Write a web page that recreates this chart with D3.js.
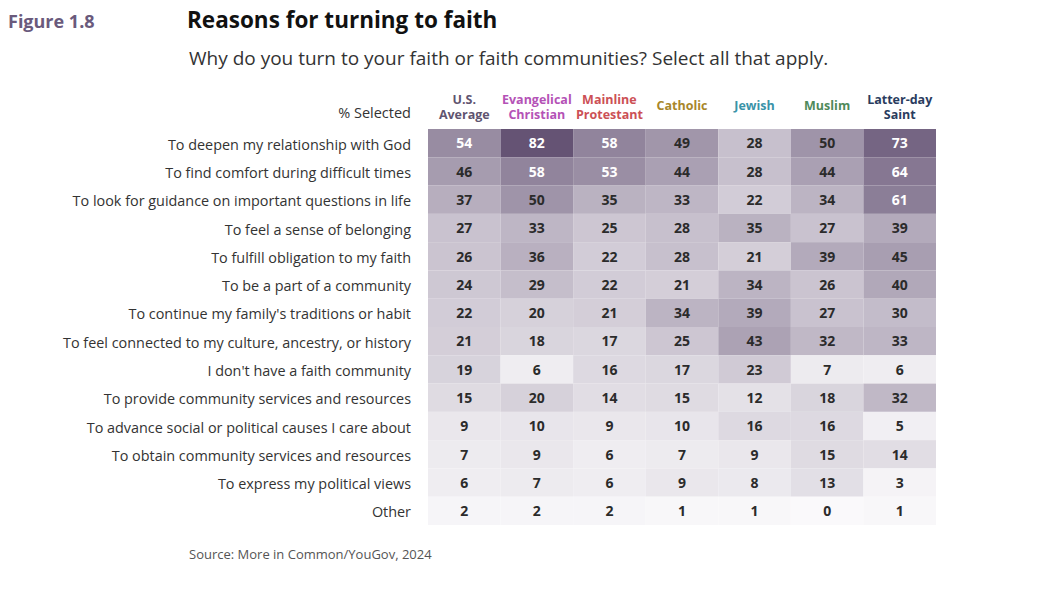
<!DOCTYPE html>
<html lang="en">
<head>
<meta charset="UTF-8" />
<title>Reasons for turning to faith</title>
<script src="https://cdn.jsdelivr.net/npm/d3@7"></script>
<style>
  body { margin: 0; background: #fff; }
  text { font-family: "Open Sans", Lato, sans-serif; }
</style>
</head>
<body>
<svg id="vis" width="1056" height="597"></svg>
<script>
  // groups (columns)
  const groups = ["U.S. Average", "Evangelical Christian", "Mainline Protestant",
    "Catholic", "Jewish", "Muslim", "Latter-day Saint"];
  const groupLines = [["U.S.", "Average"], ["Evangelical", "Christian"], ["Mainline", "Protestant"],
    ["Catholic"], ["Jewish"], ["Muslim"], ["Latter-day", "Saint"]];
  const groupColors = ["#5f5470", "#b452b6", "#cc5055", "#a8872a", "#3a93a8", "#4f8a5a", "#2a3c5e"];

  // reasons (rows)
  const reasons = [
    "To deepen my relationship with God",
    "To find comfort during difficult times",
    "To look for guidance on important questions in life",
    "To feel a sense of belonging",
    "To fulfill obligation to my faith",
    "To be a part of a community",
    "To continue my family's traditions or habit",
    "To feel connected to my culture, ancestry, or history",
    "I don't have a faith community",
    "To provide community services and resources",
    "To advance social or political causes I care about",
    "To obtain community services and resources",
    "To express my political views",
    "Other"
  ];

  // % selected, one array per column
  const usAverage   = [54, 46, 37, 27, 26, 24, 22, 21, 19, 15, 9, 7, 6, 2];
  const evangelical = [82, 58, 50, 33, 36, 29, 20, 18, 6, 20, 10, 9, 7, 2];
  const mainline    = [58, 53, 35, 25, 22, 22, 21, 17, 16, 14, 9, 6, 6, 2];
  const catholic    = [49, 44, 33, 28, 28, 21, 34, 25, 17, 15, 10, 7, 9, 1];
  const jewish      = [28, 28, 22, 35, 21, 34, 39, 43, 23, 12, 16, 9, 8, 1];
  const muslim      = [50, 44, 34, 27, 39, 26, 27, 32, 7, 18, 16, 15, 13, 0];
  const latterDay   = [73, 64, 61, 39, 45, 40, 30, 33, 6, 32, 5, 14, 3, 1];
  const columns = [usAverage, evangelical, mainline, catholic, jewish, muslim, latterDay];

  const cells = [];
  columns.forEach((col, ci) => col.forEach((v, ri) => {
    cells.push({ group: groups[ci], reason: reasons[ri], value: v });
  }));

  const svg = d3.select("#vis");

  const x = d3.scaleBand().domain(groups).range([428, 936]);
  const y = d3.scaleBand().domain(reasons).range([129, 525]);
  const color = d3.scaleLinear().domain([0, 82]).range(["#faf9fb", "#655374"]);

  // titles
  svg.append("text").attr("x", 8).attr("y", 28)
    .attr("font-size", 18).attr("font-weight", 700).attr("fill", "#6a5a7c")
    .text("Figure 1.8");
  svg.append("text").attr("x", 187).attr("y", 28)
    .attr("font-size", 22.5).attr("font-weight", 700).attr("fill", "#111")
    .text("Reasons for turning to faith");
  svg.append("text").attr("x", 189).attr("y", 65)
    .attr("font-size", 19).attr("fill", "#333")
    .text("Why do you turn to your faith or faith communities? Select all that apply.");

  svg.append("text").attr("x", 411).attr("y", 118)
    .attr("text-anchor", "end").attr("font-size", 14.5).attr("fill", "#333")
    .text("% Selected");

  // column headers
  const head = svg.append("g");
  groups.forEach((g, i) => {
    const lines = groupLines[i];
    const t = head.append("text")
      .attr("x", x(g) + x.bandwidth() / 2)
      .attr("y", lines.length === 2 ? 104 : 110)
      .attr("text-anchor", "middle").attr("font-size", 12.5).attr("font-weight", 700)
      .attr("fill", groupColors[i]);
    lines.forEach((l, k) => {
      t.append("tspan").attr("x", x(g) + x.bandwidth() / 2).attr("dy", k === 0 ? 0 : 14.5).text(l);
    });
  });

  // cells
  const gCells = svg.append("g");
  gCells.selectAll("rect").data(cells).join("rect")
    .attr("x", d => x(d.group))
    .attr("y", d => y(d.reason))
    .attr("width", x.bandwidth())
    .attr("height", y.bandwidth())
    .attr("fill", d => color(d.value));

  gCells.selectAll("text").data(cells).join("text")
    .attr("x", d => x(d.group) + x.bandwidth() / 2)
    .attr("y", d => y(d.reason) + y.bandwidth() / 2 + 1.5)
    .attr("dominant-baseline", "middle")
    .attr("text-anchor", "middle").attr("font-size", 14).attr("font-weight", 700)
    .attr("fill", d => d.value > 52 ? "#fff" : "#2b2b2b")
    .text(d => d.value);

  // row labels
  const yAxis = d3.axisLeft(y).tickSize(0).tickPadding(0);
  const gy = svg.append("g").attr("transform", "translate(411,2)").call(yAxis);
  gy.select(".domain").remove();
  gy.selectAll("text").attr("font-size", 14.4).attr("fill", "#333")
    .style("font-family", "'Open Sans', Lato, sans-serif");

  svg.append("text").attr("x", 189).attr("y", 559)
    .attr("font-size", 13).attr("fill", "#555")
    .text("Source: More in Common/YouGov, 2024");
</script>
</body>
</html>
